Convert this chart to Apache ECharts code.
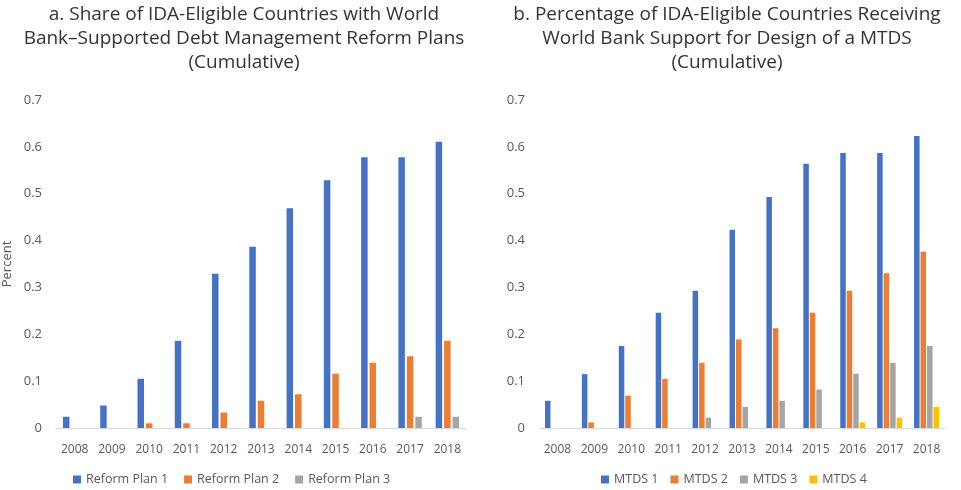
<!DOCTYPE html>
<html>
<head>
<meta charset="utf-8">
<script src="https://cdn.jsdelivr.net/npm/echarts@6/dist/echarts.min.js"></script>
<style>
  html, body { margin: 0; padding: 0; background: #ffffff; }
  #chart { width: 961px; height: 490px; }
</style>
</head>
<body>
<div id="chart"></div>
<script>
// Fiscal years on both panels
const years = ['2008', '2009', '2010', '2011', '2012', '2013', '2014', '2015', '2016', '2017', '2018'];

// Panel a: share of IDA-eligible countries with reform plans (cumulative)
const reformPlan1 = [0.024, 0.048, 0.105, 0.186, 0.329, 0.387, 0.469, 0.529, 0.578, 0.578, 0.611];
const reformPlan2 = [null, null, 0.010, 0.010, 0.033, 0.058, 0.072, 0.116, 0.139, 0.153, 0.186];
const reformPlan3 = [null, null, null, null, null, null, null, null, null, 0.024, 0.024];

// Panel b: share receiving support for an MTDS (cumulative)
const mtds1 = [0.058, 0.115, 0.175, 0.246, 0.293, 0.423, 0.493, 0.564, 0.587, 0.587, 0.623];
const mtds2 = [null, 0.012, 0.069, 0.105, 0.139, 0.189, 0.213, 0.246, 0.293, 0.330, 0.376];
const mtds3 = [null, null, null, null, 0.022, 0.045, 0.058, 0.082, 0.116, 0.139, 0.175];
const mtds4 = [null, null, null, null, null, null, null, null, 0.012, 0.022, 0.045];

const titleA = 'a. Share of IDA-Eligible Countries with World\nBank\u2013Supported Debt Management Reform Plans\n(Cumulative)';
const titleB = 'b. Percentage of IDA-Eligible Countries Receiving\nWorld Bank Support for Design of a MTDS\n(Cumulative)';

const COLORS = ['#4472C4', '#ED7D31', '#A5A5A5', '#FFC000'];
const labelFont = '"Open Sans", "Liberation Sans", sans-serif';
const titleFont = '"Open Sans", Lato, sans-serif';
const textGray = '#595959';

function xAxis(gridIndex) {
  return {
    type: 'category', gridIndex, data: years,
    axisLine: { lineStyle: { color: '#d9d9d9', width: 1 } },
    axisTick: { show: false },
    axisLabel: { color: textGray, fontFamily: labelFont, fontSize: 12, margin: 16 }
  };
}
function yAxis(gridIndex, name) {
  return {
    type: 'value', gridIndex, min: 0, max: 0.7, interval: 0.1,
    name, nameLocation: 'middle', nameGap: 42,
    nameTextStyle: { color: textGray, fontFamily: labelFont, fontSize: 13 },
    axisLine: { show: false }, axisTick: { show: false },
    splitLine: { show: false },
    axisLabel: { color: textGray, fontFamily: labelFont, fontSize: 13, margin: 14 }
  };
}
function bars(name, data, idx, color, width, gap) {
  return {
    type: 'bar', name, data, xAxisIndex: idx, yAxisIndex: idx,
    barWidth: width, barGap: gap,
    itemStyle: { color },
    emphasis: { disabled: true }
  };
}

const chart = echarts.init(document.getElementById('chart'), null, { renderer: 'canvas' });
chart.setOption({
  animation: false,
  title: [
    { text: titleA, left: 239, top: -2, textAlign: 'center',
      textStyle: { fontFamily: titleFont, fontSize: 19, fontWeight: 'normal', color: '#333333', lineHeight: 24 } },
    { text: titleB, left: 722, top: -2, textAlign: 'center',
      textStyle: { fontFamily: titleFont, fontSize: 19, fontWeight: 'normal', color: '#333333', lineHeight: 24 } }
  ],
  legend: [
    { data: ['Reform Plan 1', 'Reform Plan 2', 'Reform Plan 3'], left: 68, top: 468,
      icon: 'rect', itemWidth: 8, itemHeight: 8, itemGap: 16,
      textStyle: { color: textGray, fontFamily: labelFont, fontSize: 12.5 } },
    { data: ['MTDS 1', 'MTDS 2', 'MTDS 3', 'MTDS 4'], left: 596, top: 468,
      icon: 'rect', itemWidth: 8, itemHeight: 8, itemGap: 12,
      textStyle: { color: textGray, fontFamily: labelFont, fontSize: 12.5 } }
  ],
  grid: [
    { left: 51, right: 495, top: 100, bottom: 62 },
    { left: 539, right: 16, top: 100, bottom: 62 }
  ],
  xAxis: [xAxis(0), xAxis(1)],
  yAxis: [yAxis(0, 'Percent'), yAxis(1, '')],
  series: [
    bars('Reform Plan 1', reformPlan1, 0, COLORS[0], 6.5, '30%'),
    bars('Reform Plan 2', reformPlan2, 0, COLORS[1], 6.5, '30%'),
    bars('Reform Plan 3', reformPlan3, 0, COLORS[2], 6.5, '30%'),
    bars('MTDS 1', mtds1, 1, COLORS[0], 5.5, '18%'),
    bars('MTDS 2', mtds2, 1, COLORS[1], 5.5, '18%'),
    bars('MTDS 3', mtds3, 1, COLORS[2], 5.5, '18%'),
    bars('MTDS 4', mtds4, 1, COLORS[3], 5.5, '18%')
  ]
});
</script>
</body>
</html>
